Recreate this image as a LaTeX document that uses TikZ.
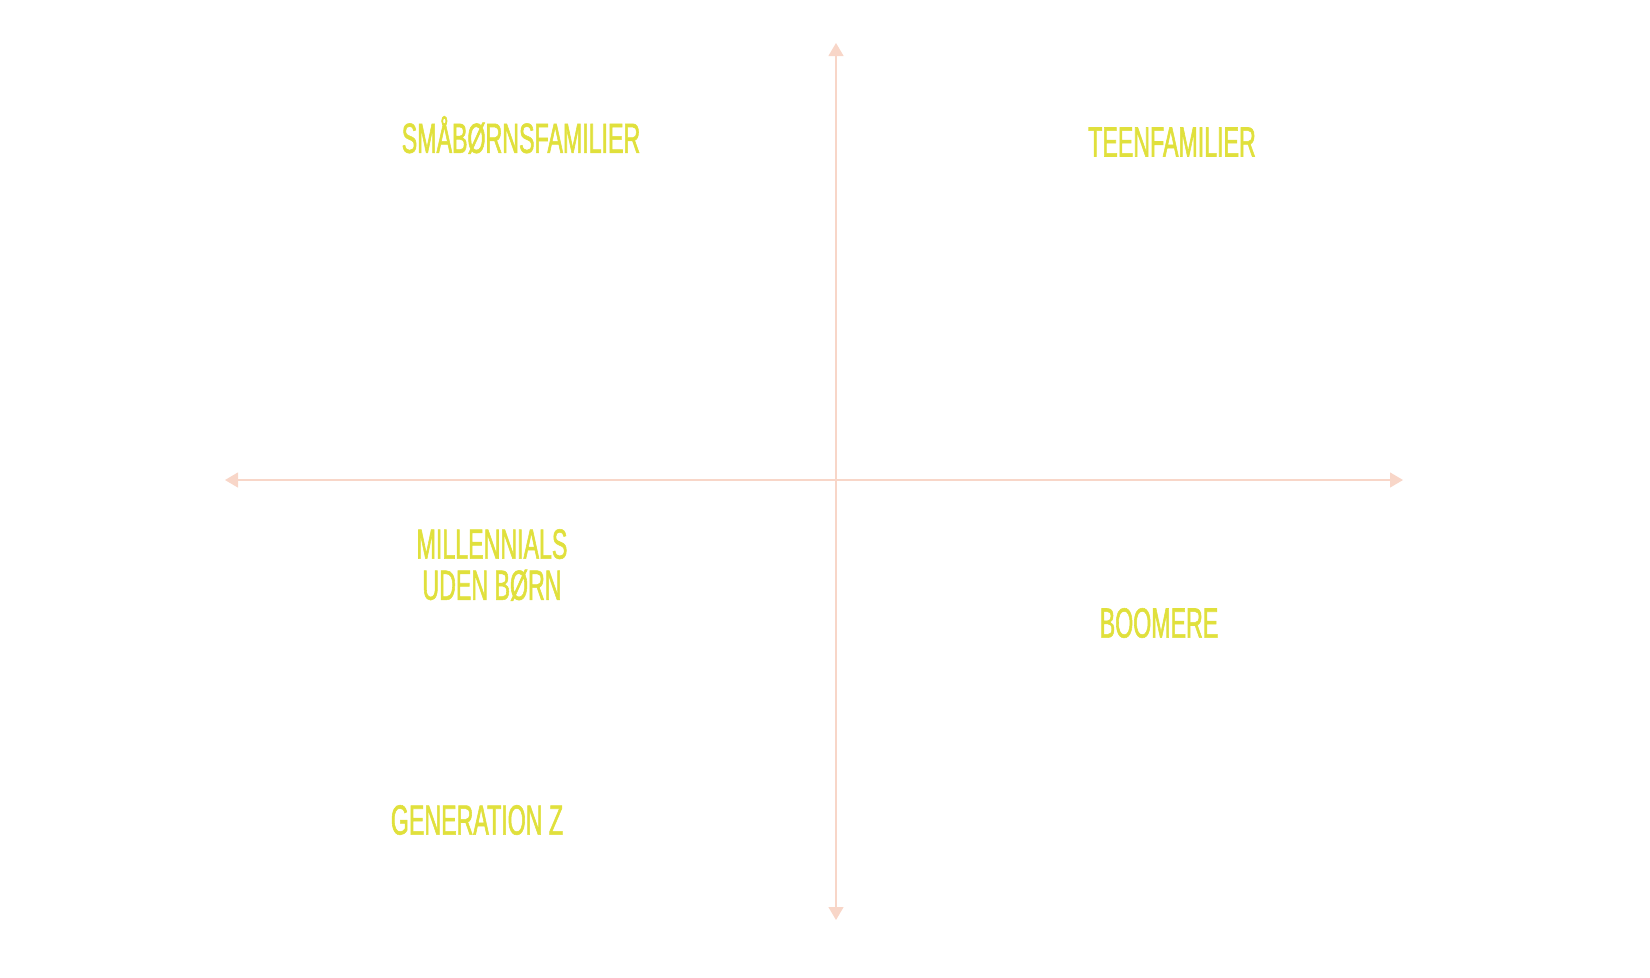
\documentclass[tikz,border=0pt]{standalone}
\usepackage{fontspec}
\setmainfont[FakeStretch=0.55,FakeBold=1.3]{Liberation Sans}
\usetikzlibrary{arrows.meta}
\definecolor{segyellow}{RGB}{224,224,60}
\definecolor{axispink}{RGB}{248,214,200}
\begin{document}
\begin{tikzpicture}[x=0.1mm,y=-0.1mm]
            \useasboundingbox (0,0) rectangle (1650,977);
            \fontsize{12}{11.7}\selectfont

            \coordinate (top)    at (836,43);
            \coordinate (bottom) at (836,920);
            \coordinate (left)   at (225,480);
            \coordinate (right)  at (1403,480);

            \begin{scope}[axispink,line width=0.13mm,{Triangle[length=1.3mm,width=1.5mm]}-{Triangle[length=1.3mm,width=1.5mm]}]
                \draw (left) -- (right);
                \draw (top) -- (bottom);
            \end{scope}

            \begin{scope}[every node/.style={text=segyellow,inner sep=0pt,align=center}]
                \node (smaa)   at (521,135) {SMÅBØRNSFAMILIER};
                \node (teen)   at (1172,142) {TEENFAMILIER};
                \node (mill)   at (492,565) {MILLENNIALS\\UDEN BØRN};
                \node (boom)   at (1159,623) {BOOMERE};
                \node (genz)   at (477,820) {GENERATION Z};
            \end{scope}
        \end{tikzpicture}
\end{document}
